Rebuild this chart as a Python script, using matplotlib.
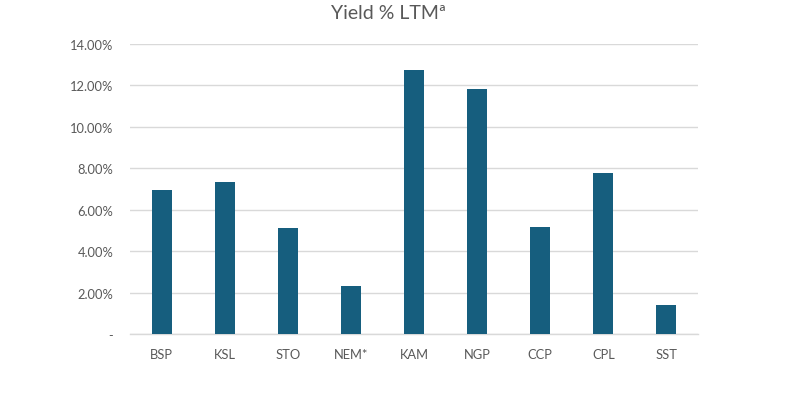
import matplotlib
matplotlib.use("Agg")
import matplotlib.pyplot as plt
from matplotlib.ticker import FuncFormatter

categories = ["BSP", "KSL", "STO", "NEM*", "KAM", "NGP", "CCP", "CPL", "SST"]
yield_pct = [6.96, 7.36, 5.11, 2.33, 12.75, 11.83, 5.19, 7.80, 1.40]
y_ticks = [0, 2, 4, 6, 8, 10, 12, 14]

plt.rcParams['font.family'] = ['Lato', 'DejaVu Sans']
text_color = '#595959'

fig = plt.figure(figsize=(7.95, 4.02), dpi=100)
ax = fig.add_axes([130/795, 1 - 335.3/402, (698-130)/795, (335.3-45)/402])

x = range(len(categories))
ax.bar(x, yield_pct, width=0.317, color='#165E7E', zorder=3)

ax.set_xlim(-0.5, len(categories) - 0.5)
ax.set_ylim(0, 14)
ax.set_yticks(y_ticks)
ax.yaxis.set_major_formatter(FuncFormatter(lambda v, p: '-' if v == 0 else f"{v:.2f}%"))
ax.set_xticks(list(x))
ax.set_xticklabels(categories)

ax.grid(axis='y', color='#d9d9d9', linewidth=1, zorder=0)
for s in ['top', 'right', 'left']:
    ax.spines[s].set_visible(False)
ax.spines['bottom'].set_color('#d9d9d9')
ax.spines['bottom'].set_linewidth(1)
ax.tick_params(axis='both', length=0, colors=text_color, labelsize=9.3)
ax.tick_params(axis='y', pad=12)
ax.tick_params(axis='x', pad=10)

fig.text(388.5/795, 1 - 13.5/402, "Yield % LTMª", ha='center', va='center', fontsize=14, color=text_color)

fig.savefig("out.png", dpi=100)
